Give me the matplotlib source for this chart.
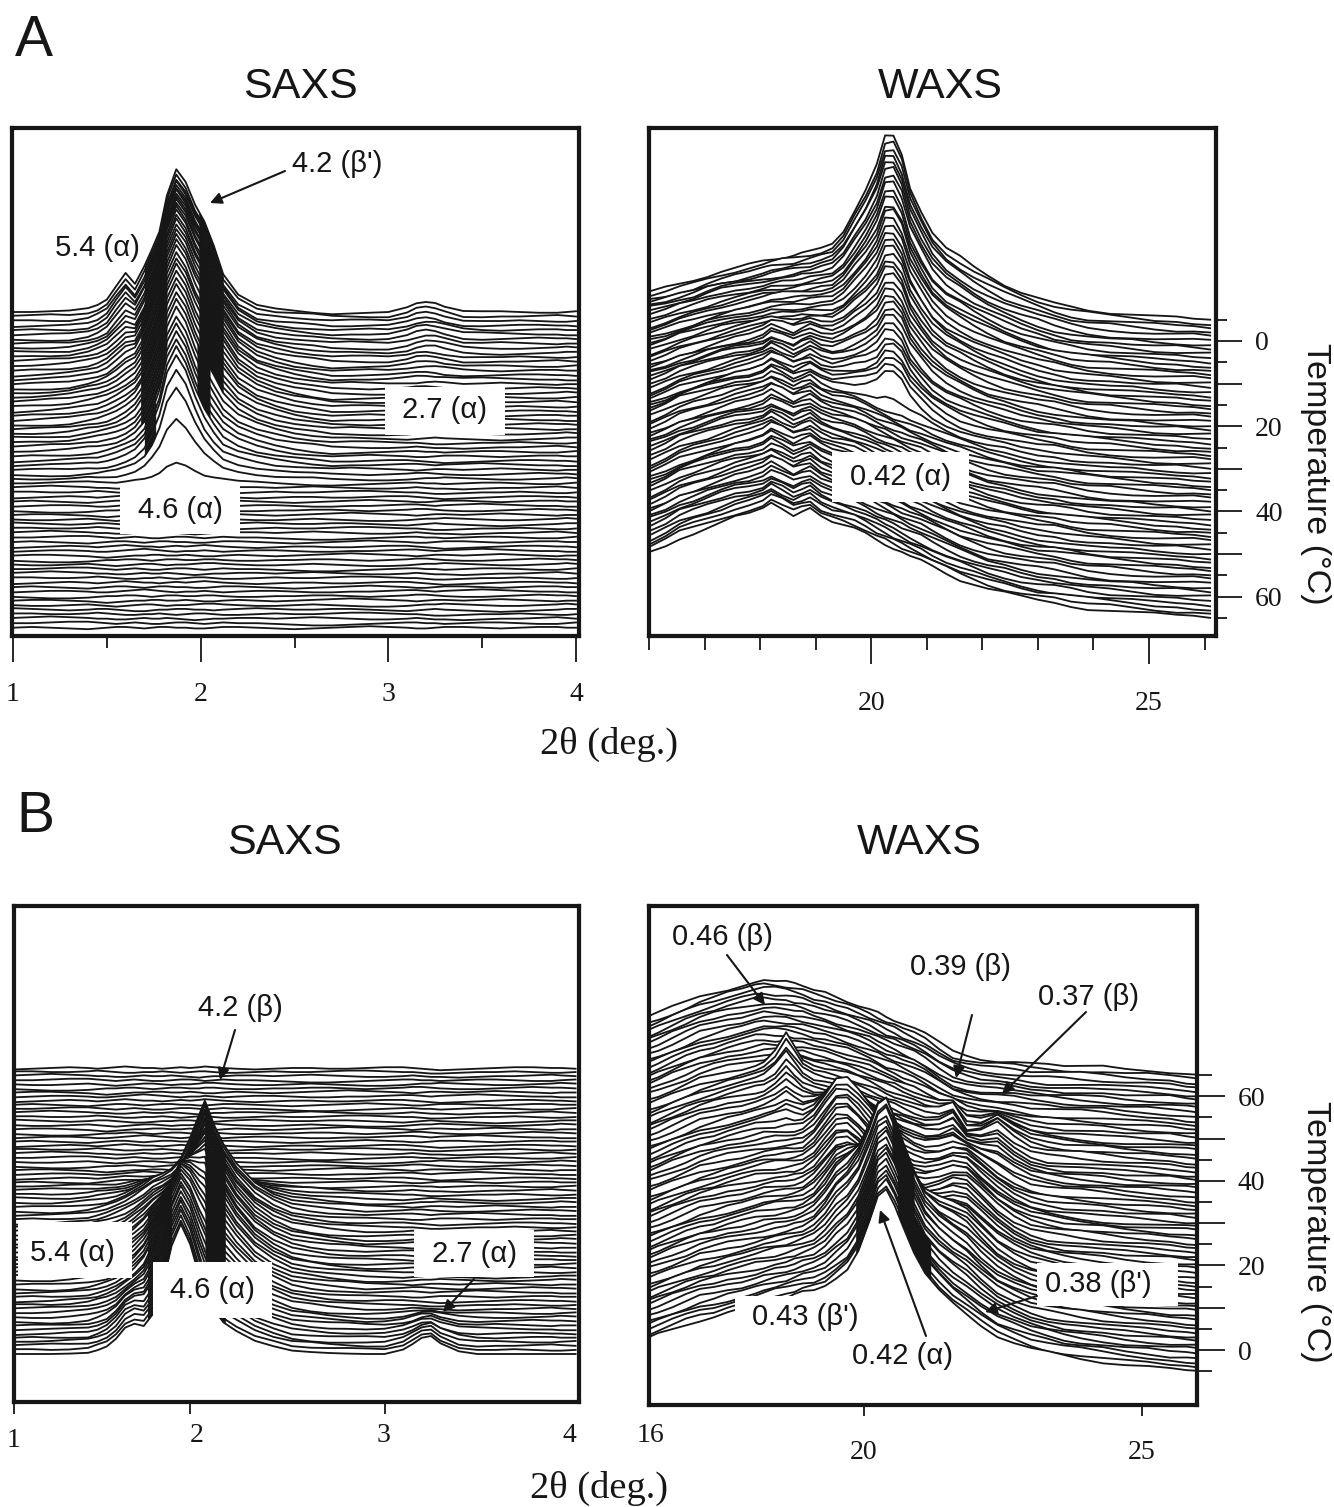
import numpy as np
import matplotlib
matplotlib.use('Agg')
import matplotlib.pyplot as plt
from matplotlib.patches import Rectangle

plt.rcParams['font.family'] = ['Liberation Sans', 'DejaVu Sans']
INK = '#161616'
W, H = 1334, 1507

TEMPS = list(range(-5, 66))

# ---------- 2-theta grids ----------
A_SAXS_x = [1.0,1.1,1.2,1.3,1.4,1.45,1.5,1.55,1.6,1.65,1.7,1.74,1.78,1.82,1.87,1.92,1.97,2.02,2.07,2.12,2.2,2.3,2.4,2.5,2.6,2.7,2.8,2.9,3.0,3.1,3.15,3.2,3.25,3.3,3.4,3.5,3.6,3.7,3.8,3.9,3.95,4.0]
B_SAXS_x = [1.0,1.1,1.2,1.3,1.4,1.45,1.5,1.55,1.6,1.65,1.7,1.75,1.8,1.85,1.9,1.95,2.0,2.03,2.08,2.13,2.2,2.3,2.4,2.5,2.6,2.7,2.8,2.9,3.0,3.1,3.15,3.2,3.25,3.3,3.4,3.5,3.6,3.7,3.8,3.9,3.95,4.03]
WAXS_x = [16.05,16.3,16.55,16.8,17.05,17.3,17.55,17.8,18.05,18.2,18.4,18.6,18.75,18.9,19.1,19.3,19.5,19.7,19.9,20.1,20.25,20.4,20.55,20.7,20.9,21.1,21.35,21.6,21.85,22.1,22.4,22.7,23,23.3,23.6,23.9,24.3,24.7,25.1,25.5,25.8,26.1]

# ---------- small ripple rows ----------
RIPPLE = [
 [0,1,0,-1,-2,-1,0,1,1,0,-1,0,1,1,0,0,-1,-1,0,1,1,0,-1,-2,-1,0,1,2,1,0,-1,-1,0,1,1,0,-1,0,1,1,0,0],
 [1,1,0,0,1,2,1,0,-1,-1,0,0,1,0,-1,0,1,1,0,-1,-1,0,1,0,0,1,2,2,1,0,0,-1,-2,-2,-1,0,0,1,0,-1,-1,0],
 [-1,-2,-3,-3,-2,-1,0,0,1,1,0,-1,0,1,1,0,0,1,1,0,-1,-1,0,0,1,1,0,-1,0,1,2,2,1,0,-1,-1,0,1,2,1,1,0],
 [0,0,1,2,2,1,0,-1,0,1,0,-1,-1,0,1,1,0,-1,0,1,0,0,-1,-2,-3,-3,-2,-1,0,1,1,0,0,-1,0,1,1,0,-1,-1,0,1],
 [2,1,0,-1,0,1,1,0,-1,-2,-2,-1,0,0,1,1,0,0,-1,0,1,2,1,0,0,1,1,0,-1,-2,-1,0,1,0,-1,-2,-3,-2,-1,0,1,1],
 [-1,0,1,1,0,-1,-1,0,1,2,3,2,1,0,-1,0,0,1,0,-1,0,1,1,0,-1,-1,0,0,1,2,2,1,0,1,2,3,2,1,0,0,-1,-1],
 [0,-1,-1,0,1,0,-1,-2,-1,0,1,1,0,-1,0,0,1,2,2,1,0,-1,-1,0,1,0,-1,-2,-2,-1,0,1,1,2,1,0,-1,-1,0,1,2,1],
 [1,2,3,2,1,0,0,-1,-1,0,1,0,0,1,0,-1,-2,-1,0,0,1,1,0,1,2,1,0,-1,-1,0,1,0,-1,-1,-2,-1,0,0,1,2,1,0],
 [0,1,1,0,-1,-2,-3,-2,-1,0,0,1,1,0,0,1,0,-1,-1,0,1,0,-1,0,1,2,3,2,1,0,-1,0,1,1,0,1,2,1,0,-1,0,0],
 [-2,-1,0,1,0,-1,0,1,2,1,0,0,-1,0,1,0,1,2,1,0,-1,-2,-1,0,0,-1,-1,0,1,1,0,-1,-2,-3,-2,-1,0,1,1,0,0,-1],
]
RIPPLE_SEQ = [3,7,1,9,0,5,2,8,6,4,1,7,3,0,9,5,8,2,6]

# ---------- A SAXS: profile shapes and their height at each temperature ----------
A_SAXS_main = [0,0,0,0,.01,.01,.02,.03,.05,.08,.16,.3,.5,.82,1,.84,.58,.36,.22,.12,.08,.05,.03,.02,.01] + [0]*17
A_SAXS_shoulder = [0]*15 + [.1,.25,.4,.35,.2,.06] + [0]*21
A_SAXS_step = [0]*10 + [.2,.2,.1] + [0]*29
A_SAXS_p54 = [0]*4 + [.03,.15,.3,.7,1,.5,.1,.02] + [0]*30
A_SAXS_p27 = [0]*29 + [.4,.8,1,.9,.6,.1] + [0]*7
A_SAXS_wing = [0,.02,.05,.1,.18,.24,.3,.4,.5,.65,.85,1,1,1,1,1,1,1,1,.9,.6,.4,.25,.12,.05] + [0]*17
A_SAXS_main_h = [142,142,142,142,141,141,141,140,140,139,139,138,136,134,132,131,129,127,126,124,122,121,119,117,116,114,112,111,109,107,106,104,103,102,101,92,80,56,18] + [0]*32
A_SAXS_shoulder_h = [100,100,99,98,97,96,95,93,91,89,87,85,82,79,76,73,70,66,62,58,54,50,46,42,38,34,30,26,22,18,14,11,8,5,2] + [0]*36
A_SAXS_step_h = [100,95,90,85,80,75,70,65,60,55,50,45,40,35,30,25,20,15,10,5] + [0]*51
A_SAXS_p54_h = [32,31,30,29,28,26,24,22,20,18,16,14,12,10,9,8,7,6,5,4,3,2,1] + [0]*48
A_SAXS_p27_h = [10,10,10,9,9,9,8,8,7,7,6,6,5,5,4,3,2,1] + [0]*53
A_SAXS_wing_h = [0,0,0,2,4,6,8,10,12,14,16,18,20,22,24,25,26,27,28,28,28,28,28,28,27,26,25,24,22,20,18,16,14,12,10,8,6,4,2] + [0]*32

# ---------- A WAXS ----------
A_WAXS_cold = [29,32,36,40,45,49,52,55,58,60,62,64,66,68,72,76,85,100,110,115,112,105,95,90,85,75,66,60,52,44,35,28,22,16,12,9,7,5,3,2,1,0]
A_WAXS_melt = [68,74,82,87,92,97,102,105,107,108,107,106,105,104,100,97,93,89,84,78,74,70,66,62,57,51,44,38,33,28,24,20,17,15,12,9,7,5,3,2,1,0]
A_WAXS_peak = [0]*16 + [.05,.12,.25,.5,.9,1,.9,.55,.3,.15,.06,.02] + [0]*14
A_WAXS_bump = [0]*8 + [.3,1,.3,-.5,.2,.8,.1,-.2] + [0]*26
A_WAXS_cold_h = [1,.97,.94,.91,.89,.86,.83,.80,.77,.74,.71,.69,.66,.63,.60,.57,.54,.51,.49,.46,.43,.40,.37,.34,.31,.29,.26,.23,.20,.17,.14,.11,.09,.06,.03,0] + [0]*35
A_WAXS_melt_h = [0,.02,.05,.07,.10,.12,.15,.17,.19,.22,.24,.27,.29,.32,.34,.36,.39,.41,.44,.46,.49,.51,.53,.56,.58,.61,.63,.66,.68,.70,.73,.75,.78,.80,.83,.85,
    .85,.86,.86,.87,.87,.87,.88,.88,.89,.89,.90,.90,.90,.91,.91,.92,.92,.93,.93,.93,.94,.94,.95,.95,.96,.96,.96,.97,.97,.98,.98,.99,.99,1,1]
A_WAXS_peak_h = [79,78,77,76,75,73,72,71,69,68,66,65,63,62,60,59,57,56,54,53,51,50,48,47,45,44,43,41,40,39,37,36,35,34,32,9] + [0]*35
A_WAXS_bump_h = [0]*18 + [2,3,4,5] + [6]*49

# ---------- B SAXS ----------
B_SAXS_p1 = [0]*8 + [.02,.04,.08,.2,.45,.8,1,.85,.6,.45,.3,.18,.1,.04,.02] + [0]*19
B_SAXS_p2 = [0]*12 + [.05,.15,.3,.55,.85,1,.7,.45,.22,.08,.03] + [0]*19
B_SAXS_wing = [0]*3 + [.02,.06,.1,.15,.22,.3,.42,.56,.72,.7,.6,.5,.4,.3,.3,.4,.5,.55,.42,.27,.17,.1,.05,.02] + [0]*15
B_SAXS_p54 = [0]*5 + [.1,.25,.6,1,.95,.4,.1] + [0]*30
B_SAXS_p27 = [0]*29 + [.25,.55,.9,1,.6,.15] + [0]*7
B_SAXS_p1_h = [120,119,118,117,116,115,114,113,112,110,108,106,104,100,97,92,86,80,74,68,62,55,48,42,36,30,25,20,15,11,8,5,3,1] + [0]*37
B_SAXS_p2_h = [0,0,2,4,6,8,11,14,17,21,25,29,34,39,45,50,56,62,68,74,80,85,88,90,91,92,94,95,96,97,97,97,97,96,96,95,95,60,25] + [0]*32
B_SAXS_wing_h = [20,22,24,26,28,30,32,34,36,38,40,42,44,45,46,47,48,49,50,50,50,50,50,50,50,50,50,50,50,49,48,47,46,45,44,43,40,36,30,24,18,12,6,3,1] + [0]*26
B_SAXS_p54_h = [18,18,18,18,17,16,15,14,12,10,8,6,4,2] + [0]*57
B_SAXS_p27_h = [18,18,17,16,15,13,11,9,7,5,3,1] + [0]*59

# ---------- B WAXS ----------
B_WAXS_melt = [57,62,68,74,80,84,88,91,94,95,94,93,91,89,85,82,78,74,70,66,62,58,55,51,46,40,30,22,18,15,14,13,11,10,9,8,7,5,4,3,1,0]
B_WAXS_solid = [32,37,42,47,52,55,59,62,65,67,70,73,76,79,81,83,85,85,82,78,75,72,70,68,64,60,54,48,42,37,32,28,23,19,15,12,9,6,4,2,1,0]
B_WAXS_alpha = [0]*15 + [.02,.08,.16,.35,.65,.9,1,.88,.72,.5,.33,.2,.1,.05,.02] + [0]*12
B_WAXS_shoulder = [0]*13 + [.03,.25,.6,.95,1,.85,.65,.5,.4,.3,.2,.12,.05] + [0]*16
B_WAXS_right = [0]*24 + [.05,.2,.55,.9,1,.75,.4,.15,.04] + [0]*9
B_WAXS_spike = [0]*9 + [.05,.4,1,.6,.2,.05] + [0]*27
B_WAXS_double = [0]*25 + [.05,.4,1,.2,.4,.9,.4,.1] + [0]*9
B_WAXS_solid_h = [1,.99,.97,.96,.94,.93,.91,.90,.89,.87,.86,.84,.83,.81,.80,.79,.77,.76,.74,.73,.71,.70,.69,.67,.66,.64,.63,.61,.60,.59,.57,.56,.54,.53,.51,.50,.49,.47,.46,.44,.43,.41,.40,.39,.37,.36,.34,.33,.31,.30,.29,.27,.26,.24,.23,.21,.20,.19,.17,.16,.14,.13,.11,.10,.09,.07,.06,.04,.03,.01,0]
B_WAXS_melt_h = [0,.01,.03,.04,.06,.07,.09,.10,.11,.13,.14,.16,.17,.19,.20,.21,.23,.24,.26,.27,.29,.30,.31,.33,.34,.36,.37,.39,.40,.41,.43,.44,.46,.47,.49,.50,.51,.53,.54,.56,.57,.59,.60,.61,.63,.64,.66,.67,.69,.70,.71,.73,.74,.76,.77,.79,.80,.81,.83,.84,.86,.87,.89,.90,.91,.93,.94,.96,.97,.99,1]
B_WAXS_alpha_h = [110,111,111,112,113,113,114,114,115,116,116,117,118,118,119,120,120,121,118,112,104,92,78,62,46,32,20,10,4] + [0]*42
B_WAXS_shoulder_h = [0,0,0,0,2,4,6,8,10,12,14,16,18,20,22,24,26,27,28,29,30,31,32,33,34,35,36,37,38,39,40,41,42,43,44,45,46,47,48,48,44,38,30,22,14,8,3] + [0]*24
B_WAXS_right_h = [8,9,10,11,12,13,14,15,16,17,18,19,20,21,22,23,24,25,26,27,28,29,30,31,32,33,34,34,35,35,36,36,36,36,35,34,33,32,30,28,26,24,22,19,16,13,10,7,4,2] + [0]*21
B_WAXS_spike_h = [0]*38 + [2,4,6,8,10,12,14,16,18,20,22,24,26,28,30,15] + [0]*17
B_WAXS_double_h = [0]*40 + [4,6,8,10,12,14,16,18,20,22,22,22,20,16,12,8,5,3,1] + [0]*12


def axes_px(x0, y0, x1, y1):
    return fig.add_axes([x0 / W, 1 - y1 / H, (x1 - x0) / W, (y1 - y0) / H])


def style(ax, lw=4.2):
    for s in ax.spines.values():
        s.set_linewidth(lw * 0.72)
        s.set_color(INK)
    ax.set_facecolor('white')


def stack(ax, x, components, t_px, front_up, ripple_scale, shift, bands=(), quiet=()):
    """Draw back-to-front; t_px = pixels per trace on the stacking axis."""
    x = np.asarray(x, float)
    n = len(TEMPS)
    order = range(n) if not front_up else range(n - 1, -1, -1)
    sign = -1 if not front_up else 1
    floor = ax.get_ylim()[0]
    for z, k in enumerate(order):
        zz = 1 + 0.012 * z
        h = np.zeros(len(x))
        for shape, amps in components:
            h = h + amps[k] * np.asarray(shape, float)
        if k not in quiet:
            h = h + ripple_scale * np.asarray(RIPPLE[RIPPLE_SEQ[(k + shift) % len(RIPPLE_SEQ)]], float)
        y = TEMPS[k] + sign * h / t_px
        ax.fill_between(x, y, floor, color='white', lw=0, zorder=zz)
        for (k0, k1, xa, xb) in bands:
            if k0 <= k <= k1:
                xx = np.linspace(xa, xb, 30)
                ax.fill_between(xx, np.interp(xx, x, y), floor, color=INK, lw=0, zorder=zz + 0.002)
        ax.plot(x, y, color=INK, lw=1.32, solid_joinstyle='round', zorder=zz + 0.004)


fig = plt.figure(figsize=(W / 100, H / 100), dpi=100, facecolor='white')
SERIF = 'Liberation Serif'
TICK_PT = 20


def xlim_from(ax, px0, px1, v0, p0, v1, p1):
    f = (v1 - v0) / (p1 - p0)
    ax.set_xlim(v0 + (px0 - p0) * f, v0 + (px1 - p0) * f)


def ylim_from(ax, top, bot, t0, p0, per_deg):
    ax.set_ylim(t0 + (bot - p0) / per_deg, t0 + (top - p0) / per_deg)


def xticks(ax, major, minor, labels, direction, major_len, minor_len, pad):
    ax.set_xticks(major)
    ax.set_xticklabels(labels, family=SERIF, fontsize=TICK_PT, color=INK)
    ax.set_xticks(minor, minor=True)
    ax.tick_params(axis='x', which='major', direction=direction, length=major_len * 0.72, width=1.3, pad=pad * 0.72, color=INK)
    ax.tick_params(axis='x', which='minor', direction='in' if direction == 'inout' else direction, length=minor_len * 0.72, width=1.3, color=INK)
    ax.set_yticks([])


def temp_axis(ax, major_len, minor_len):
    ax.yaxis.tick_right()
    ax.set_yticks([0, 10, 20, 30, 40, 50, 60])
    ax.set_yticklabels(['0', '', '20', '', '40', '', '60'], family=SERIF, fontsize=TICK_PT, color=INK)
    ax.set_yticks([-5, 5, 15, 25, 35, 45, 55, 65], minor=True)
    ax.tick_params(axis='y', which='major', direction='out', length=major_len * 0.72, width=1.3, pad=13 * 0.72, color=INK)
    ax.tick_params(axis='y', which='minor', direction='out', length=minor_len * 0.72, width=1.3, color=INK)


# ---------- A SAXS ----------
ax1 = axes_px(12, 128, 579, 636)
style(ax1)
xlim_from(ax1, 12, 579, 1, 13, 4, 576)
ylim_from(ax1, 128, 636, -5, 312, 4.51)
stack(ax1, A_SAXS_x, [(A_SAXS_main, A_SAXS_main_h), (A_SAXS_shoulder, A_SAXS_shoulder_h), (A_SAXS_step, A_SAXS_step_h),
                      (A_SAXS_p54, A_SAXS_p54_h), (A_SAXS_p27, A_SAXS_p27_h), (A_SAXS_wing, A_SAXS_wing_h)], 4.51, False, 0.75, 0,
      bands=[(0, 8, 1.70, 1.83), (9, 30, 1.68, 1.82), (31, 35, 1.70, 1.76), (0, 26, 1.99, 2.12), (27, 32, 1.98, 2.05)])
xticks(ax1, [1, 2, 3, 4], [1.5, 2.5, 3.5], ['1', '2', '3', '4'], 'out', 26, 12, 20)

# ---------- A WAXS ----------
ax2 = axes_px(649, 128, 1216, 636)
style(ax2)
xlim_from(ax2, 649, 1216, 20, 871, 25, 1149)
ylim_from(ax2, 128, 636, 0, 341, 4.26)
stack(ax2, WAXS_x, [(A_WAXS_cold, A_WAXS_cold_h), (A_WAXS_melt, A_WAXS_melt_h), (A_WAXS_peak, A_WAXS_peak_h),
                    (A_WAXS_bump, A_WAXS_bump_h)], 4.26, False, 1.2, 4)
xticks(ax2, [20, 25], [16, 17, 18, 19, 21, 22, 23, 24, 26], ['20', '25'], 'out', 28, 14, 27)
temp_axis(ax2, 26, 11)

# ---------- B SAXS ----------
ax3 = axes_px(14, 906, 579, 1402)
style(ax3)
xlim_from(ax3, 14, 579, 1, 14, 4, 570)
ylim_from(ax3, 906, 1402, -5, 1354, -4.086)
stack(ax3, B_SAXS_x, [(B_SAXS_p1, B_SAXS_p1_h), (B_SAXS_p2, B_SAXS_p2_h), (B_SAXS_wing, B_SAXS_wing_h),
                      (B_SAXS_p54, B_SAXS_p54_h), (B_SAXS_p27, B_SAXS_p27_h)], 4.086, True, 0.75, 9,
      bands=[(1, 26, 1.72, 1.85), (1, 34, 2.03, 2.14)], quiet=(0,))
xticks(ax3, [1, 1.95, 3], [1.5, 2.5, 3.5], ['1', '', ''], 'inout', 24, 11, 14)

# ---------- B WAXS ----------
ax4 = axes_px(649, 906, 1197, 1405)
style(ax4)
xlim_from(ax4, 649, 1197, 20, 864, 25, 1142)
ylim_from(ax4, 906, 1405, 0, 1350, -4.23)
stack(ax4, WAXS_x, [(B_WAXS_solid, B_WAXS_solid_h), (B_WAXS_melt, B_WAXS_melt_h), (B_WAXS_alpha, B_WAXS_alpha_h),
                    (B_WAXS_shoulder, B_WAXS_shoulder_h), (B_WAXS_right, B_WAXS_right_h), (B_WAXS_spike, B_WAXS_spike_h),
                    (B_WAXS_double, B_WAXS_double_h)], 4.23, True, 1.2, 13,
      bands=[(1, 8, 20.6, 21.2), (9, 20, 20.5, 20.9), (1, 10, 19.85, 20.2)])
xticks(ax4, [20, 25], [17, 18, 19, 21, 22, 23, 24], ['20', '25'], 'inout', 22, 11, 24)
temp_axis(ax4, 28, 15)

# ---------- overlay: titles, labels, arrows ----------
ov = fig.add_axes([0, 0, 1, 1], zorder=10)
ov.set_xlim(0, W)
ov.set_ylim(H, 0)
ov.axis('off')
ov.patch.set_alpha(0)


def box(x0, y0, x1, y1):
    ov.add_patch(Rectangle((x0, y0), x1 - x0, y1 - y0, fc='white', ec='none'))


def txt(x, y, s, size=21, **kw):
    kw.setdefault('color', INK)
    ov.text(x, y, s, fontsize=size, ha=kw.pop('ha', 'center'), va=kw.pop('va', 'center'), **kw)


def arrow(x0, y0, x1, y1, head=True, lw=1.5):
    ov.annotate('', xy=(x1, y1), xytext=(x0, y0),
                arrowprops=dict(arrowstyle='-|>' if head else '-', lw=lw, color=INK, shrinkA=0, shrinkB=0, mutation_scale=17))


for bx in [(385, 387, 505, 435), (120, 486, 240, 534), (832, 452, 969, 502),
           (18, 1222, 132, 1278), (153, 1262, 272, 1318), (414, 1230, 534, 1277),
           (735, 1296, 866, 1345), (1037, 1263, 1178, 1306)]:
    box(*bx)

txt(34, 41, 'A', 41)
txt(35, 817, 'B', 41)
txt(300, 87, 'SAXS', 31)
txt(940, 87, 'WAXS', 31)
txt(284, 843, 'SAXS', 31)
txt(919, 843, 'WAXS', 31)
txt(609, 744, '2θ (deg.)', 27.7, family=SERIF)
txt(599, 1488, '2θ (deg.)', 27.7, family=SERIF)
txt(1316, 474, 'Temperature (°C)', 24.5, rotation=270)
txt(1316, 1232, 'Temperature (°C)', 24.5, rotation=270)

txt(337, 164, "4.2 (β')")
txt(97, 248, '5.4 (α)')
txt(445, 410, '2.7 (α)')
txt(180, 510, '4.6 (α)')
txt(900, 477, '0.42 (α)')
txt(240, 1008, '4.2 (β)')
txt(72, 1253, '5.4 (α)')
txt(212, 1290, '4.6 (α)')
txt(474, 1254, '2.7 (α)')
txt(722, 937, '0.46 (β)')
txt(960, 967, '0.39 (β)')
txt(1089, 997, '0.37 (β)')
txt(805, 1317, "0.43 (β')")
txt(1098, 1284, "0.38 (β')")
txt(903, 1356, '0.42 (α)')

arrow(285, 171, 210, 203)
arrow(235, 1030, 220, 1080)
arrow(474, 1279, 443, 1312)
arrow(926, 1336, 880, 1210)
arrow(727, 955, 765, 1005)
arrow(972, 1015, 956, 1078)
arrow(1086, 1012, 1002, 1094)
arrow(1037, 1296, 985, 1312)

# tick labels of B SAXS and the left one of B WAXS
for xp, s in [(197, '2'), (383, '3'), (569, '4')]:
    txt(xp, 1436, s, TICK_PT, family=SERIF)
txt(650, 1436, '16', TICK_PT, family=SERIF)

fig.savefig('out.png', dpi=100)
